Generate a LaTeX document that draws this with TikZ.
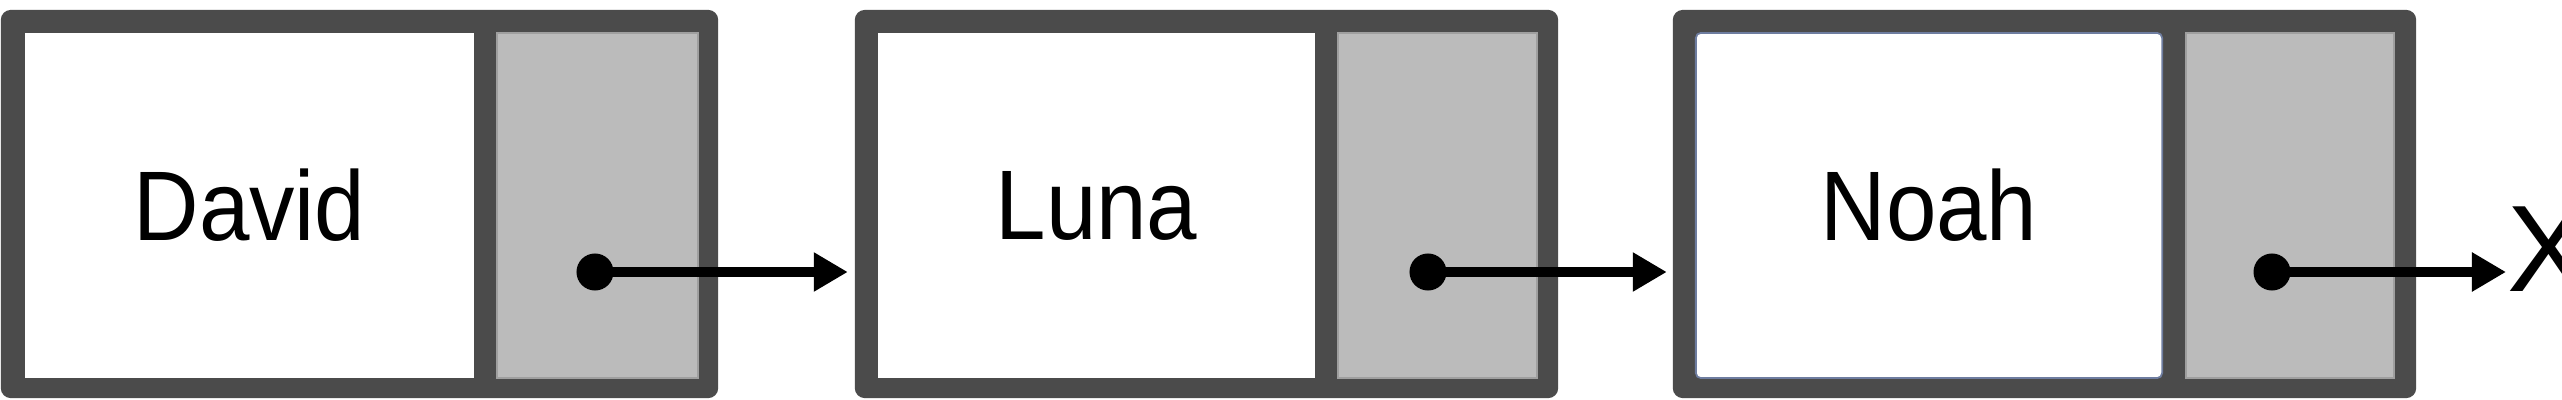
\documentclass[tikz,border=0pt]{standalone}
\usepackage{fontspec}
\setmainfont{Liberation Sans}
\usetikzlibrary{arrows.meta}
\definecolor{frame}{HTML}{4B4B4B}
\definecolor{ptr}{HTML}{BBBBBB}
\definecolor{edgeblue}{RGB}{110,125,160}
\newcommand{\celltext}[1]{\scalebox{1}[1.09]{#1}}
\begin{document}
\begin{tikzpicture}[x=0.01cm,y=-0.01cm,
  outerbox/.style={fill=frame, rounded corners=0.1cm, inner sep=0pt, outer sep=0pt, minimum height=3.88cm},
  datacell/.style={fill=white, inner sep=0pt, outer sep=0pt, minimum height=3.45cm, font=\fontsize{25.8}{30}\selectfont},
  ptrcell/.style={fill=ptr, draw=ptr!85!black, line width=0.5pt, inner sep=0pt, outer sep=0pt, minimum height=3.45cm},
  dotnode/.style={circle, fill=black, minimum size=0.37cm, inner sep=0pt, outer sep=0pt},
  link/.style={line width=0.09cm, -{Triangle[length=0.34cm,width=0.37cm]}}
]
\useasboundingbox (0,0) rectangle (2562,400);

% node 1
\node[outerbox, minimum width=7.17cm] (n1) at (359.5,204) {};
\node[datacell, minimum width=4.49cm] (d1) at (249.5,205.5) {\celltext{David}};
\node[ptrcell, minimum width=2.01cm] (p1) at (597.5,205.5) {};
\node[dotnode] (c1) at (595,272) {};

% node 2
\node[outerbox, minimum width=7.03cm] (n2) at (1206.5,204) {};
\node[datacell, minimum width=4.37cm] (d2) at (1096.5,205.5) {\celltext{Luna}};
\node[ptrcell, minimum width=1.99cm] (p2) at (1437.5,205.5) {};
\node[dotnode] (c2) at (1428,272) {};

% node 3
\node[outerbox, minimum width=7.43cm] (n3) at (2044.5,204) {};
\node[datacell, draw=edgeblue, line width=0.5pt, rounded corners=0.05cm, minimum width=4.66cm] (d3) at (1929,205.5) {\celltext{Noah}};
\node[ptrcell, minimum width=2.08cm] (p3) at (2290,205.5) {};
\node[dotnode] (c3) at (2272,272) {};

% null marker
\node[anchor=west, inner sep=0pt, outer sep=0pt, font=\fontsize{35}{40}\selectfont] (nil) at (2507,249) {X};

% links
\draw[link, shorten >=0.07cm] (c1.center) -- (c1.center -| n2.west);
\draw[link, shorten >=0.06cm] (c2.center) -- (c2.center -| n3.west);
\draw[link, shorten >=0.01cm] (c3.center) -- (c3.center -| nil.west);
\end{tikzpicture}
\end{document}
